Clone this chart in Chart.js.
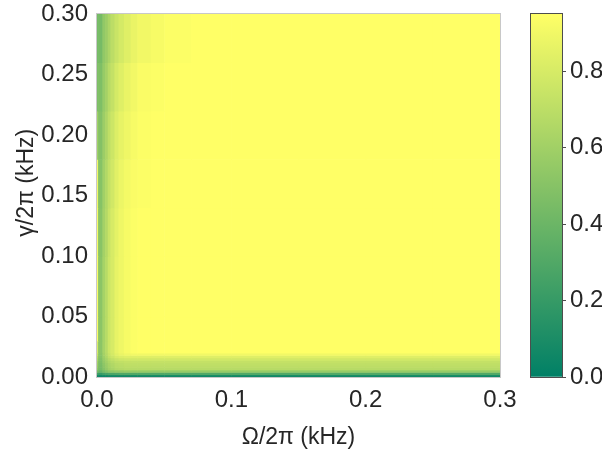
<!DOCTYPE html>
<html>
<head>
<meta charset="utf-8">
<script src="https://cdn.jsdelivr.net/npm/chart.js@4"></script>
<style>
  html, body { margin: 0; padding: 0; background: #fff; }
  #wrap { position: relative; width: 602px; height: 453px; }
  #heatmap { position: absolute; left: 0; top: 0; }
  #cbar { position: absolute; left: 500px; top: 0; }
</style>
</head>
<body>
<div id="wrap">
  <canvas id="heatmap" width="602" height="453"></canvas>
  <canvas id="cbar" width="102" height="453"></canvas>
</div>
<script>
// --- Data ---
// cell edges along Ω/2π (kHz) and γ/2π (kHz)
const omegaEdges = [0, 0.0008, 0.004, 0.006, 0.008, 0.010, 0.013, 0.016, 0.020, 0.025, 0.030, 0.040, 0.050, 0.070, 0.100, 0.150, 0.200, 0.250, 0.300];
const gammaEdges = [0, 0.002, 0.004, 0.006, 0.008, 0.010, 0.012, 0.014, 0.016, 0.018, 0.020, 0.030, 0.050, 0.100, 0.140, 0.180, 0.220, 0.260, 0.300];

// one row per γ band, bottom to top; one value per Ω band
const fidelity = [
  [0.05, 0.04, 0.05, 0.05, 0.06, 0.06, 0.06, 0.06, 0.06, 0.06, 0.06, 0.06, 0.06, 0.06, 0.06, 0.06, 0.06, 0.06],
  [0.25, 0.20, 0.24, 0.26, 0.28, 0.28, 0.29, 0.30, 0.30, 0.30, 0.30, 0.30, 0.30, 0.30, 0.30, 0.30, 0.30, 0.30],
  [0.45, 0.38, 0.44, 0.48, 0.52, 0.53, 0.55, 0.55, 0.56, 0.56, 0.56, 0.56, 0.56, 0.56, 0.56, 0.56, 0.56, 0.56],
  [0.55, 0.44, 0.50, 0.55, 0.60, 0.63, 0.66, 0.67, 0.68, 0.68, 0.68, 0.68, 0.68, 0.68, 0.68, 0.68, 0.68, 0.68],
  [0.58, 0.45, 0.52, 0.57, 0.62, 0.65, 0.68, 0.69, 0.70, 0.70, 0.70, 0.70, 0.70, 0.70, 0.70, 0.70, 0.70, 0.70],
  [0.60, 0.46, 0.53, 0.58, 0.63, 0.66, 0.69, 0.70, 0.71, 0.71, 0.71, 0.71, 0.71, 0.71, 0.71, 0.71, 0.71, 0.71],
  [0.62, 0.47, 0.55, 0.60, 0.65, 0.68, 0.71, 0.72, 0.73, 0.73, 0.73, 0.73, 0.73, 0.73, 0.73, 0.73, 0.73, 0.73],
  [0.66, 0.48, 0.57, 0.62, 0.68, 0.72, 0.75, 0.77, 0.78, 0.78, 0.78, 0.78, 0.78, 0.78, 0.78, 0.78, 0.78, 0.78],
  [0.70, 0.50, 0.59, 0.65, 0.72, 0.76, 0.80, 0.82, 0.83, 0.83, 0.83, 0.83, 0.83, 0.83, 0.83, 0.83, 0.83, 0.83],
  [0.75, 0.51, 0.61, 0.67, 0.74, 0.79, 0.84, 0.87, 0.89, 0.90, 0.90, 0.90, 0.90, 0.90, 0.90, 0.90, 0.90, 0.90],
  [0.80, 0.52, 0.62, 0.68, 0.76, 0.80, 0.86, 0.89, 0.92, 0.94, 0.95, 0.95, 0.95, 0.95, 0.95, 0.95, 0.95, 0.95],
  [0.93, 0.52, 0.62, 0.68, 0.76, 0.80, 0.86, 0.89, 0.92, 0.94, 0.95, 0.95, 0.95, 0.95, 0.95, 0.95, 0.95, 0.95],
  [0.93, 0.52, 0.62, 0.68, 0.76, 0.80, 0.86, 0.89, 0.92, 0.94, 0.95, 0.95, 0.95, 0.95, 0.95, 0.95, 0.95, 0.95],
  [0.92, 0.51, 0.61, 0.67, 0.75, 0.80, 0.85, 0.89, 0.92, 0.94, 0.95, 0.95, 0.95, 0.95, 0.95, 0.95, 0.95, 0.95],
  [0.90, 0.50, 0.60, 0.66, 0.73, 0.78, 0.84, 0.88, 0.91, 0.93, 0.94, 0.95, 0.95, 0.95, 0.95, 0.95, 0.95, 0.95],
  [0.60, 0.49, 0.58, 0.64, 0.71, 0.76, 0.82, 0.86, 0.89, 0.92, 0.94, 0.95, 0.95, 0.95, 0.95, 0.95, 0.95, 0.95],
  [0.47, 0.47, 0.56, 0.61, 0.68, 0.73, 0.79, 0.83, 0.87, 0.90, 0.93, 0.94, 0.95, 0.95, 0.95, 0.95, 0.95, 0.95],
  [0.44, 0.44, 0.54, 0.58, 0.64, 0.70, 0.75, 0.79, 0.83, 0.87, 0.90, 0.92, 0.94, 0.95, 0.95, 0.95, 0.95, 0.95]
];

const colorMin = 0.0;
const colorMax = 0.95;
const colorbarTicks = [0.0, 0.2, 0.4, 0.6, 0.8];

// --- Helpers ---
// matplotlib "summer" colormap
function summer(v) {
    const t = Math.max(0, Math.min(1, (v - colorMin) / (colorMax - colorMin)));
    return `rgb(${Math.round(255 * t)}, ${Math.round(255 * (0.5 + 0.5 * t))}, 102)`;
}

const textColor = '#262626';
const tickFont = { family: "'Liberation Sans', Arial, sans-serif", size: 24 };
const titleFont = { family: "'Liberation Sans', Arial, sans-serif", size: 23 };

// draws the cells through the chart's scales
const heatmapPlugin = {
    id: 'heatmapCells',
    beforeDatasetsDraw(chart) {
        const { ctx, chartArea, scales: { x, y } } = chart;
        ctx.save();
        ctx.beginPath();
        ctx.rect(chartArea.left, chartArea.top, chartArea.width, chartArea.height);
        ctx.clip();
        for (let r = 0; r < fidelity.length; r++) {
            const yBottom = y.getPixelForValue(gammaEdges[r]);
            const yTop = y.getPixelForValue(gammaEdges[r + 1]);
            for (let c = 0; c < fidelity[r].length; c++) {
                const xLeft = x.getPixelForValue(omegaEdges[c]);
                const xRight = x.getPixelForValue(omegaEdges[c + 1]);
                ctx.fillStyle = summer(fidelity[r][c]);
                ctx.fillRect(xLeft, yTop, xRight - xLeft + 0.6, yBottom - yTop + 0.6);
            }
        }
        ctx.restore();
    },
    afterDatasetsDraw(chart) {
        const { ctx, chartArea } = chart;
        ctx.save();
        ctx.strokeStyle = '#c8c8c8';
        ctx.lineWidth = 1;
        ctx.strokeRect(chartArea.left - 0.5, chartArea.top - 0.5, chartArea.width + 1, chartArea.height + 1);
        ctx.restore();
    }
};

// --- Heatmap ---
new Chart(document.getElementById('heatmap'), {
    type: 'scatter',
    data: { datasets: [{ data: [], pointRadius: 0 }] },
    options: {
        responsive: false,
        animation: false,
        layout: { padding: { left: 0, top: 14, right: 102, bottom: 0 } },
        plugins: { legend: { display: false }, tooltip: { enabled: false } },
        scales: {
            x: {
                type: 'linear',
                min: 0,
                max: 0.3,
                grid: { display: false, drawTicks: false },
                border: { display: false },
                ticks: {
                    stepSize: 0.1,
                    padding: 9,
                    color: textColor,
                    font: tickFont,
                    maxRotation: 0,
                    callback: v => v.toFixed(1)
                },
                title: {
                    display: true,
                    text: 'Ω/2π (kHz)',
                    color: textColor,
                    font: titleFont,
                    padding: { top: 0, bottom: 2 }
                },
                afterFit: scale => {
                    scale.height = 76;
                    scale.paddingLeft = 0;
                    scale.paddingRight = 0;
                }
            },
            y: {
                type: 'linear',
                min: 0,
                max: 0.3,
                grid: { display: false, drawTicks: false },
                border: { display: false },
                ticks: {
                    stepSize: 0.05,
                    padding: 9,
                    color: textColor,
                    font: tickFont,
                    callback: v => v.toFixed(2)
                },
                title: {
                    display: true,
                    // leading spaces nudge the rotated label upward like the original
                    text: '\u00a0\u00a0\u00a0\u00a0γ/2π (kHz)',
                    color: textColor,
                    font: titleFont,
                    padding: { top: 13, bottom: 0 }
                },
                afterFit: scale => {
                    scale.width = 97;
                    scale.paddingTop = 0;
                    scale.paddingBottom = 0;
                }
            }
        }
    },
    plugins: [heatmapPlugin]
});

// --- Colorbar ---
const colorbarFrame = {
    id: 'colorbarFrame',
    afterDatasetsDraw(chart) {
        const { ctx, chartArea } = chart;
        ctx.save();
        ctx.strokeStyle = '#4d4d4d';
        ctx.lineWidth = 1;
        ctx.strokeRect(chartArea.left - 0.5, chartArea.top - 0.5, chartArea.width + 1, chartArea.height + 1);
        ctx.restore();
    }
};

new Chart(document.getElementById('cbar'), {
    type: 'bar',
    data: {
        labels: [''],
        datasets: [{
            data: [[colorMin, colorMax]],
            barPercentage: 1,
            categoryPercentage: 1,
            borderWidth: 0,
            backgroundColor: ctx => {
                const { chart } = ctx;
                if (!chart.chartArea) return summer(colorMax);
                const yScale = chart.scales.y;
                const g = chart.ctx.createLinearGradient(0, yScale.getPixelForValue(colorMin), 0, yScale.getPixelForValue(colorMax));
                for (let i = 0; i <= 10; i++) {
                    const v = colorMin + (colorMax - colorMin) * i / 10;
                    g.addColorStop(i / 10, summer(v));
                }
                return g;
            }
        }]
    },
    options: {
        responsive: false,
        animation: false,
        layout: { padding: { left: 31, top: 14, right: 0, bottom: 76 } },
        plugins: { legend: { display: false }, tooltip: { enabled: false } },
        scales: {
            x: { display: false },
            y: {
                position: 'right',
                min: colorMin,
                max: colorMax,
                afterBuildTicks: scale => {
                    scale.ticks = colorbarTicks.map(v => ({ value: v }));
                },
                grid: { drawOnChartArea: false, tickLength: 4, color: '#4d4d4d', tickColor: '#4d4d4d' },
                border: { display: false },
                ticks: {
                    padding: 4,
                    color: textColor,
                    font: tickFont,
                    callback: v => v.toFixed(1)
                },
                afterFit: scale => {
                    scale.width = 40;
                    scale.paddingTop = 0;
                    scale.paddingBottom = 0;
                }
            }
        }
    },
    plugins: [colorbarFrame]
});
</script>
</body>
</html>
